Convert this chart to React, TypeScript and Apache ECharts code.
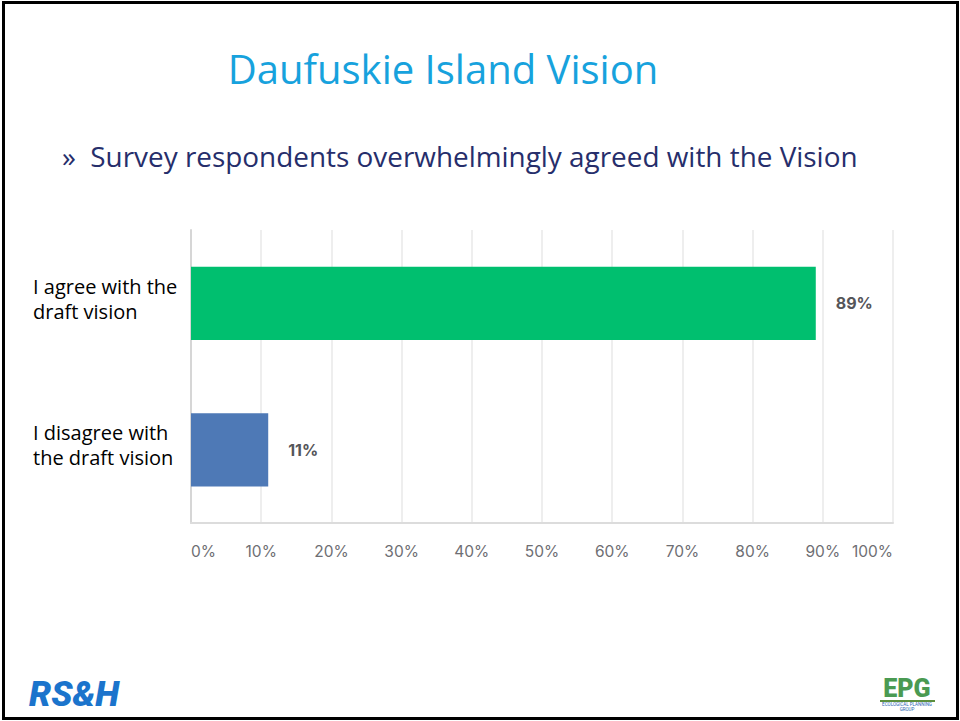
import React, { useEffect, useRef } from "react";
import * as echarts from "echarts";

const categories = ["I disagree with\nthe draft vision", "I agree with the\ndraft vision"];
const values = [11, 89];
const barColors = ["#4e79b6", "#00bf6f"];
const xTicks = [0, 10, 20, 30, 40, 50, 60, 70, 80, 90, 100];

const title = "Daufuskie Island Vision";
const subtitle = "»  Survey respondents overwhelmingly agreed with the Vision";

export default function App() {
  const ref = useRef<HTMLDivElement>(null);
  useEffect(() => {
    if (!ref.current) return;
    const chart = echarts.init(ref.current, null, { renderer: "svg" });
    chart.setOption({
      animation: false,
      backgroundColor: "#ffffff",
      grid: { left: 191, right: 67, top: 230, bottom: 198, containLabel: false },
      xAxis: {
        type: "value",
        min: xTicks[0],
        max: xTicks[xTicks.length - 1],
        interval: 10,
        axisLine: { show: true, lineStyle: { color: "#dcdcdc", width: 2 } },
        axisTick: { show: false },
        splitLine: { show: true, lineStyle: { color: "#e8e8e8", width: 1.5 } },
        axisLabel: {
          formatter: "{value}%",
          color: "#6e6e73",
          fontSize: 15.5,
          fontFamily: "Inter",
          margin: 20,
          alignMinLabel: "left",
          alignMaxLabel: "right",
        },
      },
      yAxis: {
        type: "category",
        data: categories,
        axisLine: { show: true, lineStyle: { color: "#d6d6d6", width: 2 } },
        axisTick: { show: false },
        axisLabel: {
          align: "left",
          margin: 158,
          formatter: (v: string) =>
            v.split("\n").map((s) => "{a|" + s + "}").join("\n") + "\n{s|}",
          rich: {
            a: {
              color: "#000000",
              fontSize: 20,
              lineHeight: 25,
              fontFamily: "Open Sans",
            },
            s: { fontSize: 1, lineHeight: 9 },
          },
        },
      },
      series: [
        {
          type: "bar",
          barWidth: "50%",
          data: values.map((v, i) => ({ value: v, itemStyle: { color: barColors[i] } })),
          label: {
            show: true,
            position: "right",
            distance: 20,
            formatter: "{c}%",
            color: "#555559",
            fontSize: 16,
            fontWeight: "bold",
            fontFamily: "Inter",
          },
        },
      ],
      graphic: [
        {
          type: "rect",
          shape: { x: 3.5, y: 2.5, width: 954, height: 716 },
          style: { fill: "none", stroke: "#000000", lineWidth: 3 },
          z: 100,
        },
        {
          type: "text",
          x: 443,
          y: 68,
          style: {
            text: title,
            fill: "#17a2dd",
            fontSize: 40,
            fontFamily: "Open Sans",
            textAlign: "center",
            textVerticalAlign: "middle",
          },
        },
        {
          type: "text",
          x: 62,
          y: 156,
          style: {
            text: subtitle,
            fill: "#262e6b",
            fontSize: 27.9,
            fontFamily: "Open Sans",
            textAlign: "left",
            textVerticalAlign: "middle",
          },
        },
        {
          type: "text",
          x: 29,
          y: 694,
          style: {
            text: "RS&H",
            fill: "#1b74cc",
            fontSize: 35,
            fontWeight: 900,
            fontStyle: "italic",
            fontFamily: "Roboto",
            textAlign: "left",
            textVerticalAlign: "middle",
          },
        },
        {
          type: "text",
          x: 907,
          y: 688,
          style: {
            text: "EPG",
            fill: "#4a9a52",
            fontSize: 25,
            fontWeight: 900,
            fontFamily: "Roboto",
            textAlign: "center",
            textVerticalAlign: "middle",
          },
        },
        {
          type: "rect",
          shape: { x: 880, y: 700, width: 55, height: 2 },
          style: { fill: "#5c8f3e" },
        },
        {
          type: "text",
          x: 907,
          y: 704,
          style: {
            text: "ECOLOGICAL PLANNING",
            fill: "#2a64b0",
            fontSize: 4.5,
            fontFamily: "Roboto",
            textAlign: "center",
            textVerticalAlign: "middle",
          },
        },
        {
          type: "text",
          x: 907,
          y: 709,
          style: {
            text: "GROUP",
            fill: "#2a64b0",
            fontSize: 4.5,
            fontFamily: "Roboto",
            textAlign: "center",
            textVerticalAlign: "middle",
          },
        },
      ],
    });
    return () => chart.dispose();
  }, []);
  return (
    <div
      ref={ref}
      style={{ position: "fixed", left: 0, top: 0, width: 960, height: 721 }}
    />
  );
}
